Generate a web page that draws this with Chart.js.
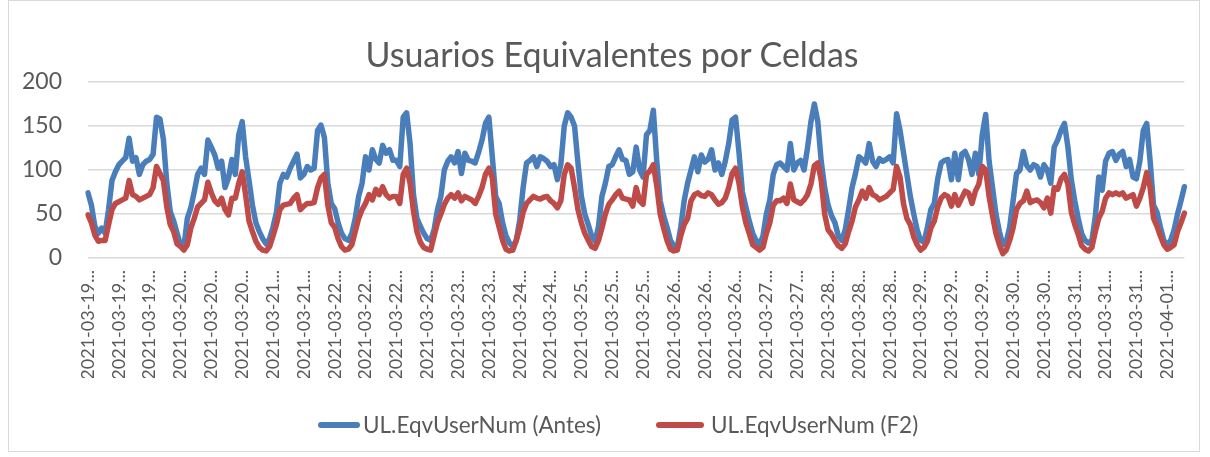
<!DOCTYPE html>
<html><head><meta charset="utf-8">
<script src="https://cdn.jsdelivr.net/npm/chart.js@4"></script>
<style>
html,body{margin:0;padding:0;background:#fff;}
#wrap{position:relative;width:1210px;height:457px;overflow:hidden;background:#fff;}
#frame{position:absolute;left:8px;top:0px;width:1192px;height:452px;border:1px solid #d9d9d9;box-sizing:border-box;}
canvas{position:absolute;left:0;top:0;}
#title{position:absolute;left:0;width:1224px;top:33px;text-align:center;font-family:Lato;font-size:34px;line-height:42px;color:#595959;white-space:nowrap;}
.lg{position:absolute;font-family:Lato;font-size:22.5px;line-height:26px;color:#595959;white-space:nowrap;top:412px;}
.ln{position:absolute;height:6px;border-radius:3px;top:422px;}
</style>
</head><body>
<div id="wrap">
<canvas id="c" width="1210" height="457"></canvas>
<div id="frame"></div>
<div id="title">Usuarios Equivalentes por Celdas</div>
<div class="ln" style="left:318px;width:42px;background:#4a7ebb"></div>
<div class="lg" style="left:363px">UL.EqvUserNum (Antes)</div>
<div class="ln" style="left:656px;width:48px;background:#be4b48"></div>
<div class="lg" style="left:711px">UL.EqvUserNum (F2)</div>
</div>
<script>
const days = ["2021-03-19","2021-03-20","2021-03-21","2021-03-22","2021-03-23","2021-03-24","2021-03-25","2021-03-26","2021-03-27","2021-03-28","2021-03-29","2021-03-30","2021-03-31","2021-04-01"];
const tickLabels = ["2021-03-19...","2021-03-19...","2021-03-19...","2021-03-20...","2021-03-20...","2021-03-20...","2021-03-21...","2021-03-21...","2021-03-22...","2021-03-22...","2021-03-22...","2021-03-23...","2021-03-23...","2021-03-23...","2021-03-24...","2021-03-24...","2021-03-25...","2021-03-25...","2021-03-25...","2021-03-26...","2021-03-26...","2021-03-26...","2021-03-27...","2021-03-27...","2021-03-28...","2021-03-28...","2021-03-28...","2021-03-29...","2021-03-29...","2021-03-29...","2021-03-30...","2021-03-30...","2021-03-31...","2021-03-31...","2021-03-31...","2021-04-01..."];
const antes = [
74,60,36,28,34,28,55,88,98,106,110,114,136,110,114,95,106,110,112,118,160,158,135,85,
53,42,28,15,13,45,57,75,95,102,95,134,126,117,102,110,80,91,112,95,140,155,115,88,
60,40,30,22,16,22,35,52,85,95,92,102,110,118,91,95,104,100,102,145,151,137,85,62,
56,40,28,22,20,28,45,70,85,115,100,123,112,108,128,119,123,111,111,104,160,165,130,72,
45,36,28,22,20,32,55,70,100,110,115,108,121,96,119,111,110,108,120,134,153,160,115,70,
62,40,25,17,13,20,43,80,108,111,115,104,115,113,110,104,106,89,106,150,165,160,150,108,
70,50,38,25,19,36,70,85,104,106,115,123,112,111,95,98,126,100,92,140,145,168,110,65,
48,35,20,14,12,35,65,85,100,115,98,117,109,112,123,100,108,95,110,130,157,160,120,75,
58,42,28,20,15,25,50,66,95,106,108,104,100,130,100,108,111,100,125,155,175,155,110,80,
60,48,40,25,20,32,55,80,96,115,112,108,130,110,104,113,110,112,115,108,164,145,120,95,
70,50,32,20,18,35,55,62,90,108,111,112,89,119,89,118,121,112,95,119,95,140,163,110,
80,50,30,15,18,35,65,96,100,121,105,100,106,104,92,106,100,85,126,134,145,153,126,89,
65,45,28,20,17,20,47,92,77,110,119,121,111,118,121,104,112,92,90,110,145,153,110,60,
52,35,20,15,20,32,50,65,81];
const f2 = [
49,40,26,19,20,20,38,55,62,64,66,68,88,72,70,66,68,70,72,80,104,96,88,58,
38,30,16,13,9,15,34,45,58,62,66,86,74,65,61,68,55,49,68,68,85,98,72,42,
30,19,12,9,8,13,25,38,55,60,61,62,68,72,55,59,62,62,63,80,91,95,60,40,
35,22,13,9,10,15,30,45,55,62,72,66,78,72,81,72,68,70,70,62,95,102,85,53,
30,18,12,10,9,25,40,50,61,68,72,68,74,65,70,68,66,62,70,80,95,102,91,50,
35,20,10,8,9,20,34,52,62,66,70,68,67,69,70,65,62,57,65,95,106,102,80,55,
40,28,20,13,11,20,34,50,61,66,72,76,68,67,66,59,80,65,61,95,99,106,82,50,
34,20,10,8,9,25,38,45,65,72,74,71,70,74,72,66,61,63,68,80,96,102,85,58,
40,28,15,12,9,12,28,40,60,65,65,68,62,84,66,64,62,66,72,84,105,108,88,50,
32,27,20,14,11,16,30,42,58,66,76,68,80,72,70,66,68,70,74,78,104,92,62,45,
38,24,15,9,12,19,34,42,58,68,72,70,59,72,60,68,76,74,62,76,84,104,100,70,
48,28,15,5,9,20,34,55,62,65,76,63,65,66,63,57,68,51,80,78,90,95,84,52,
38,27,14,10,8,12,30,45,53,68,74,72,74,72,74,68,70,72,59,68,80,97,80,45,
36,25,15,10,12,15,30,40,51];
const yTicks = [0,50,100,150,200];

const categories = [];
for (const d of days) for (let h = 0; h < 24; h++) {
  if (categories.length < antes.length) categories.push(d + " " + String(h).padStart(2,"0") + ":00");
}

function draw(){
new Chart(document.getElementById('c'), {
  type:'line',
  data:{labels:categories, datasets:[
    {label:'UL.EqvUserNum (Antes)', data:antes, borderColor:'#4a7ebb', backgroundColor:'#4a7ebb', borderWidth:5.5, pointRadius:0, tension:0, borderJoinStyle:'round', borderCapStyle:'round', fill:false, order:2},
    {label:'UL.EqvUserNum (F2)', data:f2, borderColor:'#be4b48', backgroundColor:'#be4b48', borderWidth:5.5, pointRadius:0, tension:0, borderJoinStyle:'round', borderCapStyle:'round', fill:false, order:1}
  ]},
  options:{
    responsive:false, animation:false, devicePixelRatio:1,
    layout:{padding:{left:0,right:24,top:82,bottom:457-258-120}},
    plugins:{legend:{display:false},title:{display:false},tooltip:{enabled:false}},
    scales:{
      x:{type:'category', offset:false, grid:{display:false}, border:{display:false},
         ticks:{autoSkip:false, maxRotation:90, minRotation:90, padding:4, color:'#595959', font:{family:'Lato', size:18},
                callback:(v,i)=> (i%9===0 && tickLabels[i/9]) ? tickLabels[i/9] : ''},
         afterFit:s=>{s.height=120;}},
      y:{min:0, max:200, afterBuildTicks:s=>{s.ticks = yTicks.map(v=>({value:v}));},
         ticks:{color:'#595959', font:{family:'Lato', size:23}, padding:26},
         grid:{color:'#d9d9d9', lineWidth:1.5, drawTicks:false}, border:{display:false},
         afterFit:s=>{s.width=88;}}
    }
  }
});
}
if (document.fonts && document.fonts.load) {
  Promise.all([document.fonts.load('20px Lato'), document.fonts.load('18px Lato')]).then(draw, draw);
} else draw();
</script>
</body></html>
